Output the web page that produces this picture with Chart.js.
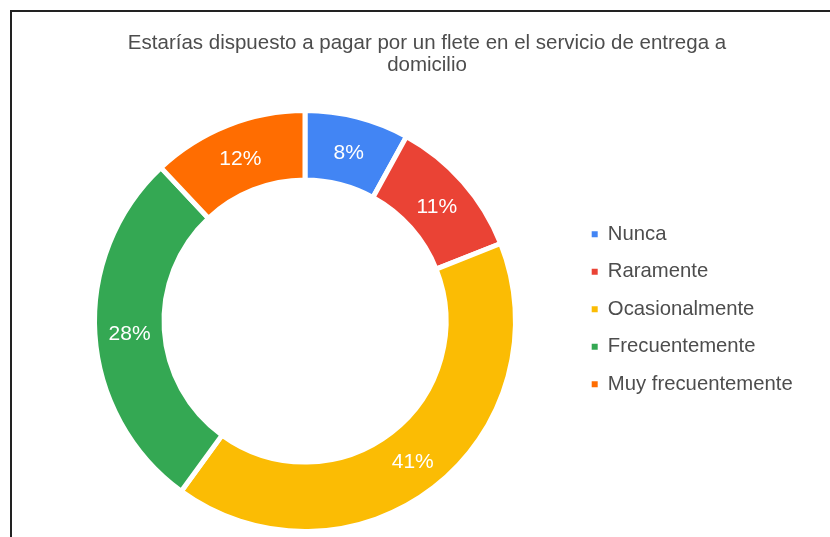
<!DOCTYPE html>
<html>
<head>
<meta charset="utf-8">
<script src="https://cdn.jsdelivr.net/npm/chart.js@4"></script>
<style>
  html, body { margin: 0; padding: 0; background: #fff; overflow: hidden; width: 830px; height: 537px; }
  #frame { position: absolute; left: 10px; top: 10px; width: 900px; height: 600px;
           border-left: 2px solid #222; border-top: 2px solid #222; }
  #myChart { position: absolute; left: 12px; top: 12px; }
</style>
</head>
<body>
<div id="frame"></div>
<canvas id="myChart" width="830" height="525"></canvas>
<script>
// Data
var chartTitle = ["Estarías dispuesto a pagar por un flete en el servicio de entrega a", "domicilio"];
var labels = ["Nunca", "Raramente", "Ocasionalmente", "Frecuentemente", "Muy frecuentemente"];
var values = [8, 11, 41, 28, 12];
var sliceColors = ["#4285F4", "#EA4335", "#FBBC04", "#34A853", "#FF6D01"];

var FONT = "Arial, 'Liberation Sans', sans-serif";

var tweaks = {
  id: "tweaks",
  beforeLayout: function (chart) {
    // legend box a bit wider so the donut sits left of the title centre
    var lg = chart.legend;
    if (lg && !lg._wide) {
      var fit = lg.fit;
      lg.fit = function () {
        fit.call(this);
        this.width = 244;
      };
      lg._wide = true;
    }
  },
  afterLayout: function (chart) {
    // legend starts next to the donut middle
    var h = chart.legend.bottom - chart.legend.top;
    chart.legend.top = 194.8;
    chart.legend.bottom = 194.8 + h;
  },
  // percentage text inside each slice
  afterDatasetsDraw: function (chart) {
    var ctx = chart.ctx;
    var meta = chart.getDatasetMeta(0);
    var data = chart.data.datasets[0].data;
    var total = data.reduce(function (a, b) { return a + b; }, 0);
    ctx.save();
    ctx.fillStyle = "#fff";
    ctx.font = "21px " + FONT;
    ctx.textAlign = "center";
    ctx.textBaseline = "middle";
    meta.data.forEach(function (arc, i) {
      var p = arc.tooltipPosition();
      ctx.fillText(Math.round(data[i] / total * 100) + "%", p.x, p.y + 2);
    });
    ctx.restore();
  }
};

new Chart("myChart", {
  type: "doughnut",
  data: {
    labels: labels,
    datasets: [{
      data: values,
      backgroundColor: sliceColors,
      borderColor: "#fff",
      borderWidth: 5
    }]
  },
  plugins: [tweaks],
  options: {
    responsive: false,
    animation: false,
    cutout: "67%",
    layout: { padding: { left: 23.5, right: 23.5, top: 0, bottom: 3 } },
    plugins: {
      tooltip: { enabled: false },
      title: {
        display: true,
        text: chartTitle,
        color: "#4d4d4d",
        font: { family: FONT, size: 20.5, weight: "normal", lineHeight: 1.05 },
        padding: { top: 21, bottom: 32 }
      },
      legend: {
        position: "right",
        align: "start",
        labels: {
          color: "#4d4d4d",
          font: { family: FONT, size: 20.3 },
          boxWidth: 6,
          boxHeight: 6,
          padding: 17.2,
          generateLabels: function (chart) {
            var items = Chart.overrides.doughnut.plugins.legend.labels.generateLabels(chart);
            items.forEach(function (it) { it.lineWidth = 0; it.strokeStyle = it.fillStyle; });
            return items;
          }
        }
      }
    }
  }
});
</script>
</body>
</html>
